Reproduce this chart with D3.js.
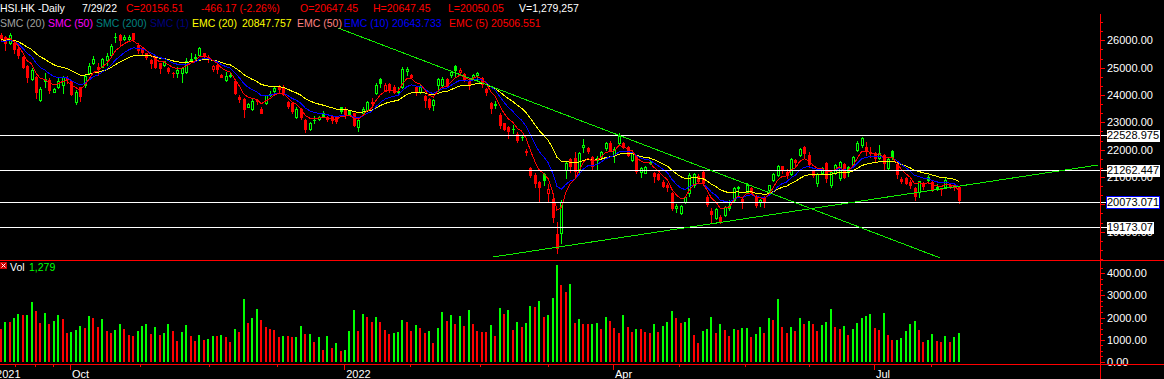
<!DOCTYPE html>
<html><head><meta charset="utf-8">
<script src="https://cdn.jsdelivr.net/npm/d3@7"></script>
<style>html,body{margin:0;padding:0;background:#000;overflow:hidden}svg{display:block}</style>
</head><body>
<svg id="chart" width="1164" height="379"></svg>
<script>
// ---------------- DATA ----------------
const open = [
26194,26133,25889,25914,25700,25402,25060,24573,24670,23817,
24585,24548,24122,24305,24366,24620,24524,23756,24280,24366,
24817,25158,25036,25036,25280,25463,26109,26194,26036,26036,
26255,25828,25682,25524,25280,25400,25158,25097,25000,24817,
24792,24792,24853,25280,25341,25463,25524,25402,24939,25097,
24731,24548,24695,24524,23939,23841,23573,23476,23817,23476,
23695,24000,24159,24280,24244,23756,23695,23183,23475,23085,
22743,23085,23109,23353,23182,23231,23182,23548,23475,23426,
23329,22841,23329,23451,23755,24060,24572,24182,24401,24304,
24157,24279,24889,24730,24304,24121,23962,23841,23633,24365,
24365,24572,24730,25060,24852,24767,24523,24645,24730,24609,
24206,23719,23633,23268,22963,22841,22743,22573,22451,21963,
21317,21073,20829,21110,20427,20184,18920,18950,21250,21650,
21700,21256,22085,22050,21744,21620,21744,22050,22250,21800,
22230,22232,22110,21622,21744,21200,21160,21560,21135,21100,
20830,20700,20400,19880,19700,20100,20400,20700,21050,21190,
20281,19750,19490,19550,19610,19850,20159,20600,20200,20460,
20590,20300,20100,20281,20525,20891,21074,21400,21200,21110,
21622,21800,22100,21820,21230,20769,21134,21524,20708,21134,
20950,21475,21378,21439,21990,22170,22110,21920,21860,21700,
21800,21317,21960,21476,20920,20960,20830,20586,20464,20769,
20990,20830,20647,20586,20647,20720,20700,20647.45];

const high = [
26280,26158,26255,25950,25760,25426,25097,24975,24695,24280,
24817,24609,24244,24634,24695,24700,24548,24183,24305,24731,
25158,25426,25158,25365,25524,25853,26255,26231,26194,26206,
26280,25889,25707,25548,25304,25430,25182,25243,25036,24853,
25036,25012,25341,25548,25499,25768,25548,25463,25097,25158,
24756,24853,24817,24548,24000,23878,23720,23841,23841,23549,
24000,24146,24329,24366,24366,23793,23720,23573,23511,23109,
23024,23231,23231,23426,23231,23268,23207,23572,23572,23451,
23353,23109,23548,23792,23877,24450,24609,24426,24426,24365,
24279,25011,25011,24767,24328,24401,24000,23877,23841,24609,
24645,24609,24889,25096,24974,24791,24548,24767,24852,24645,
24243,23755,23792,23329,22987,22865,22902,22658,22536,22012,
21354,21134,20866,21134,20744,20240,19370,20150,21580,21700,
21930,21930,22380,22080,21780,21760,21960,22290,22300,22100,
22600,22280,22150,21900,21780,21380,21400,21600,21200,21130,
20900,20780,20450,20000,19980,20300,21150,21130,21100,21230,
20330,19850,19850,19600,19950,20150,20650,20680,20230,20780,
20620,20330,20190,20300,20720,21150,21450,21420,21300,21700,
21660,22050,22150,21900,21260,21150,21380,21560,21250,21480,
21600,21520,21400,21780,22300,22450,22292,22085,21900,22170,
21830,21700,22000,21500,21000,21010,20900,20620,20850,20800,
21070,20850,20740,20600,20950,20780,20750,20647.45];

const low = [
26011,25646,25865,25548,25341,24975,24488,24548,23878,23793,
24305,24085,24098,24244,24061,24427,24000,23671,23793,24305,
24792,25121,24731,25012,25097,25426,25950,25828,26011,26011,
26011,25524,25499,25316,24975,24990,24817,25060,24792,24646,
24670,24488,24817,25256,25280,25426,25377,25219,24890,24817,
24646,24524,24670,24036,23756,23183,23549,23451,23671,23330,
23671,23963,24122,24122,24000,23512,23354,23147,23109,22658,
22719,22987,23085,23207,23060,22987,22987,23353,23146,23280,
22865,22695,23268,23426,23572,24036,24304,24157,24121,24060,
24000,24243,24730,24645,24000,24084,23572,23475,23451,24157,
24328,24279,24670,24645,24816,24523,24206,24609,24548,24304,
24000,23329,23511,22780,22719,22414,22597,22292,22353,21805,
20988,20622,20098,20708,20098,19370,18235,18600,20950,21200,
21050,21200,21930,21870,21300,21256,21700,22000,21950,21560,
22200,22050,21780,21600,21135,21013,21130,21480,20830,20900,
20640,20500,19800,19720,19650,20050,20300,20650,20800,20700,
19950,19350,19450,19300,19580,19800,20100,20340,19880,20420,
20400,19900,19950,19900,20500,20860,21050,21150,20950,21080,
21400,21780,21750,21380,20990,20670,21100,20800,20650,21100,
20900,20980,21020,21400,21950,22100,21805,21744,21560,21650,
21256,21300,21650,20950,20780,20730,20600,20150,20281,20550,
20840,20500,20530,20350,20600,20600,20525,20050.05];

const close = [
26072,25900,26205,25700,25480,25033,24668,24920,24099,24221,
24510,24192,24208,24500,24663,24575,24036,24104,23966,24701,
25050,25325,24962,25331,25409,25787,26136,26017,26126,26132,
26038,25628,25555,25377,25154,25024,24996,25225,24870,24813,
24900,24996,25248,25327,25390,25713,25450,25320,25050,24951,
24652,24685,24740,24080,23852,23475,23658,23789,23767,23349,
23983,24050,24254,24207,24036,23600,23420,23475,23192,22744,
22971,23102,23193,23230,23109,23086,23060,23397,23274,23320,
22907,23072,23493,23746,23700,24365,24429,24383,24218,24113,
24127,24952,24966,24656,24150,24289,23807,23550,23802,24573,
24579,24329,24830,24924,24906,24556,24355,24719,24792,24400,
24100,23520,23660,22901,22767,22700,22761,22344,22467,21905,
21057,20765,20627,20890,20553,19531,18415,20087,21501,21412,
21221,21889,22154,21946,21404,21684,21927,22232,21997,22040,
22502,22080,21808,21872,21208,21320,21374,21518,21027,20944,
20682,20638,19869,19934,19946,20276,21089,21101,20870,20793,
20001,19633,19824,19380,19899,19950,20602,20644,20120,20717,
20470,19980,20171,20116,20697,21123,21415,21294,21082,21653,
21532,22014,21869,21480,21070,21100,21317,20950,21195,21439,
21559,21008,21230,21719,22230,22419,21950,21860,21680,21866,
21500,21643,21726,21110,20844,20797,20720,20297,20846,20661,
20890,20575,20609,20562,20905,20671,20622,20156.51];

const volume = [
1486,1803,1803,1984,2165,2120,2135,2709,2301,1758,
2211,1713,1849,2120,1939,1305,1351,1441,1622,1532,
2075,1984,1577,1939,1396,1305,1441,1713,1486,1215,
1169,1396,1622,1713,1260,1577,1215,1305,1713,1396,
943,1351,1667,1169,943,1215,988,1034,1169,1169,
1215,1124,898,1486,1351,2844,1758,1984,2392,1894,
1577,1486,1441,1124,1169,1169,1124,1139,1622,1260,
1275,898,1124,536,1169,
626,853,490,536,1396,2346,1396,2165,2030,1803,
2030,1803,1441,1260,1305,1351,1894,1803,1396,1667,
1532,1305,1396,853,1532,2256,1849,2120,1713,2075,
1622,2346,1713,1396,1351,1351,1667,1169,2437,2165,
2346,1441,1803,1577,1758,2528,2482,2754,2030,2120,
2890,4384,3478,3161,3524,1758,1939,1713,1713,1728,
1743,1486,2030,1849,1532,1305,2120,1577,1351,1486,
1486,1351,1305,1713,
1351,1622,1803,2301,1984,1758,1803,1984,1215,853,
1396,1486,2030,1305,1713,1441,1169,1486,1441,1532,
1547,1124,1260,1577,1305,1984,1894,2844,1577,1305,
1577,1396,1984,1713,1849,1713,1396,1667,1803,2392,
1577,1486,1622,1215,1486,1758,1984,2075,2165,1532,
1441,2211,1215,988,1003,1079,1396,1713,1849,1441,
898,988,1260,943,898,1169,898,1124,1279];

const emaPeriods = [20, 10, 5];
const emaSeeds = [26010, 25955, 26072];
const priceTicks = [19000, 20000, 21000, 22000, 23000, 24000, 25000, 26000];
const volTicks = [0, 1000, 2000, 3000, 4000];
const levels = [22528.975, 21262.447, 20073.071, 19173.07];
const levelLabels = ["22528.975", "21262.447", "20073.071", "19173.07"];
const xLabels = ["2021", "Oct", "2022", "Apr", "Jul"];
const xLabelIdx = [-1.5, 15.7, 77.8, 138.7, 197.8];
const xMinorIdx = [3.2, 7.8, 11.8, 31.5, 47.2, 62.6, 92.7, 108.6, 124, 153.6, 168.6, 183, 210.7];
const trendDown = [[76.4, 26450], [212.8, 18040]];
const trendUp = [[111.5, 18075], [248.6, 21440]];
const headerRow1 = ["HSI.HK -Daily", "7/29/22", "C=20156.51", "-466.17 (-2.26%)", "O=20647.45", "H=20647.45", "L=20050.05", "V=1,279,257"];
const headerRow2 = ["SMC (20)", "SMC (50)", "SMC (200)", "SMC (1)", "EMC (20)", "20847.757", "EMC (50)", "EMC (10)", "20643.733", "EMC (5)", "20506.551"];
const volLabel = ["Vol", "1,279"];

// ---------------- DRAW ----------------
const FONT = "'Liberation Sans', Arial, sans-serif";
const GREEN = "#00ff00", RED = "#ff0000";
const svg = d3.select("#chart");
svg.append("rect").attr("width", 1164).attr("height", 379).attr("fill", "#000");

const n = close.length;
const x = d3.scaleLinear().domain([0, n - 1]).range([0.7, 958.7]);
const y = d3.scaleLinear().domain([19000, 26000]).range([231.7, 40.3]);
const yv = d3.scaleLinear().domain([0, 4000]).range([361.7, 273.3]);

svg.append("defs").append("clipPath").attr("id", "pp")
  .append("rect").attr("x", 0).attr("y", 14).attr("width", 1100).attr("height", 246);

const idx = d3.range(n);
const candleColor = i => (i === 0 ? close[0] >= open[0] : close[i] >= close[i - 1]) ? GREEN : RED;
const px = i => Math.round(x(i));

const gC = svg.append("g").attr("clip-path", "url(#pp)").attr("shape-rendering", "crispEdges");
gC.selectAll("rect.wick").data(idx).join("rect").attr("class", "wick")
  .attr("x", i => px(i))
  .attr("y", i => Math.round(y(Math.max(high[i], open[i], close[i]))))
  .attr("width", 1)
  .attr("height", i => Math.max(1, Math.round(y(Math.min(low[i], open[i], close[i]))) - Math.round(y(Math.max(high[i], open[i], close[i]))) + 1))
  .attr("fill", candleColor);
const bodyTop = i => Math.round(y(Math.max(open[i], close[i])));
const bodyH = i => Math.max(1, Math.round(y(Math.min(open[i], close[i]))) - bodyTop(i) + 1);
const hollow = i => close[i] > open[i] && bodyH(i) >= 3;
gC.selectAll("rect.body").data(idx).join("rect").attr("class", "body")
  .attr("x", i => hollow(i) ? px(i) - 0.5 : px(i) - 1)
  .attr("y", i => hollow(i) ? bodyTop(i) + 0.5 : bodyTop(i))
  .attr("width", i => hollow(i) ? 2 : 3)
  .attr("height", i => hollow(i) ? bodyH(i) - 1 : bodyH(i))
  .attr("fill", i => hollow(i) ? "#000" : candleColor(i))
  .attr("stroke", i => hollow(i) ? candleColor(i) : "none")
  .attr("stroke-width", 1);

function ema(vals, period, seed) {
  const k = 2 / (period + 1); let e = seed;
  return vals.map(v => (e = e + k * (v - e)));
}
const emaColors = ["#ffff00", "#0000ff", "#ff0000"];
const line = d3.line().x((d, i) => x(i)).y(d => y(d));
const gE = svg.append("g").attr("clip-path", "url(#pp)");
emaPeriods.forEach((p, k) => {
  gE.append("path").attr("d", line(ema(close, p, emaSeeds[k])))
    .attr("fill", "none").attr("stroke", emaColors[k]).attr("stroke-width", 1)
    .attr("shape-rendering", "crispEdges");
});

const gL = svg.append("g").attr("shape-rendering", "crispEdges");
levels.forEach(v => {
  const yy = Math.round(y(v)) + 0.5;
  gL.append("line").attr("x1", 0).attr("x2", 1107).attr("y1", yy).attr("y2", yy)
    .attr("stroke", "#ffffff").attr("stroke-width", 1);
});

const gT = svg.append("g").attr("clip-path", "url(#pp)");
[trendDown, trendUp].forEach(t => {
  gT.append("line")
    .attr("x1", x(t[0][0])).attr("y1", y(t[0][1]))
    .attr("x2", x(t[1][0])).attr("y2", y(t[1][1]))
    .attr("stroke", "#11ee00").attr("stroke-width", 1).attr("shape-rendering", "crispEdges");
});

const volColor = i => (i > 0 && volume[i] > volume[i - 1]) ? GREEN : RED;
svg.append("g").attr("shape-rendering", "crispEdges")
  .selectAll("rect").data(idx).join("rect")
  .attr("x", i => px(i) - 1).attr("width", 2)
  .attr("y", i => Math.round(yv(volume[i])))
  .attr("height", i => Math.max(0, Math.round(yv(0)) - Math.round(yv(volume[i]))))
  .attr("fill", volColor);

function styleAxis(g) {
  g.select(".domain").remove();
  g.selectAll("line").attr("stroke", RED).attr("shape-rendering", "crispEdges");
  g.selectAll("text").attr("fill", "#ffffff").style("font-family", FONT).style("font-size", "11px");
}
const minorP = d3.range(18000, 26900, 1000 / 3);
svg.append("g").attr("transform", "translate(1100,0)")
  .call(d3.axisRight(y).tickValues(minorP).tickSize(3).tickFormat("")).call(styleAxis);
svg.append("g").attr("transform", "translate(1100,0)")
  .call(d3.axisRight(y).tickValues(priceTicks).tickSize(5).tickPadding(2).tickFormat(d3.format(".2f"))).call(styleAxis);
const minorV = d3.range(0, 4300, 250);
svg.append("g").attr("transform", "translate(1100,0)")
  .call(d3.axisRight(yv).tickValues(minorV).tickSize(3).tickFormat("")).call(styleAxis);
svg.append("g").attr("transform", "translate(1100,0)")
  .call(d3.axisRight(yv).tickValues(volTicks).tickSize(5).tickPadding(2).tickFormat(d3.format(".2f"))).call(styleAxis);

levels.forEach((v, k) => {
  const yy = y(v);
  const g = svg.append("g");
  const r = g.append("rect").attr("x", 1106.5).attr("y", Math.round(yy) - 5.5).attr("height", 12)
    .attr("fill", "#ffffff").attr("shape-rendering", "crispEdges");
  const t = g.append("text").attr("x", 1107).attr("y", yy).attr("dy", "0.34em")
    .attr("fill", "#000").style("font-family", FONT).style("font-size", "11px").text(levelLabels[k]);
  const w = t.node().getComputedTextLength();
  r.attr("width", Math.ceil(w) + 1);
  if (k === 2) r.attr("stroke", "#0000ff").attr("stroke-width", 1);
});

const gX = svg.append("g").attr("transform", "translate(0,364)")
  .call(d3.axisBottom(x).tickValues(xLabelIdx).tickSize(6).tickPadding(0).tickFormat((d, i) => xLabels[i]));
styleAxis(gX);
gX.selectAll("text").attr("text-anchor", "start").attr("x", 1.5);
const gXm = svg.append("g").attr("transform", "translate(0,364)")
  .call(d3.axisBottom(x).tickValues(xMinorIdx).tickSize(3).tickFormat(""));
styleAxis(gXm);

const gF = svg.append("g").attr("shape-rendering", "crispEdges");
gF.append("line").attr("x1", 1100.5).attr("x2", 1100.5).attr("y1", 14).attr("y2", 379).attr("stroke", RED);
gF.append("line").attr("x1", 0).attr("x2", 1164).attr("y1", 260.5).attr("y2", 260.5).attr("stroke", RED);
gF.append("line").attr("x1", 0).attr("x2", 1164).attr("y1", 364.5).attr("y2", 364.5).attr("stroke", RED);

const HF = "10.5px";
const row1Pos = [0, 82, 126, 201, 300, 373, 448, 519];
const row1Col = ["#fff", "#fff", RED, RED, RED, RED, RED, "#fff"];
headerRow1.forEach((s, k) => {
  svg.append("text").attr("x", row1Pos[k]).attr("y", 12).attr("fill", row1Col[k])
    .style("font-family", FONT).style("font-size", HF).text(s);
});
const row2Pos = [0, 48, 96, 150, 192, 242, 297, 344, 392, 449, 491];
const row2Col = ["#a0a0a0", "#ff00ff", "#008080", "#000080", "#ffff00", "#ffff00", "#ff8080", "#0000ff", "#0000ff", RED, RED];
headerRow2.forEach((s, k) => {
  svg.append("text").attr("x", row2Pos[k]).attr("y", 27).attr("fill", row2Col[k])
    .style("font-family", FONT).style("font-size", HF).text(s);
});

svg.append("rect").attr("x", 0).attr("y", 262).attr("width", 7).attr("height", 7).attr("fill", "#cc0000");
svg.append("path").attr("d", "M1.5,263.5 L5.5,267.5 M5.5,263.5 L1.5,267.5").attr("stroke", "#fff").attr("stroke-width", 1);
svg.append("text").attr("x", 10).attr("y", 271).attr("fill", "#fff")
  .style("font-family", FONT).style("font-size", HF).text(volLabel[0]);
svg.append("text").attr("x", 29).attr("y", 271).attr("fill", GREEN)
  .style("font-family", FONT).style("font-size", HF).text(volLabel[1]);
</script>
</body></html>
